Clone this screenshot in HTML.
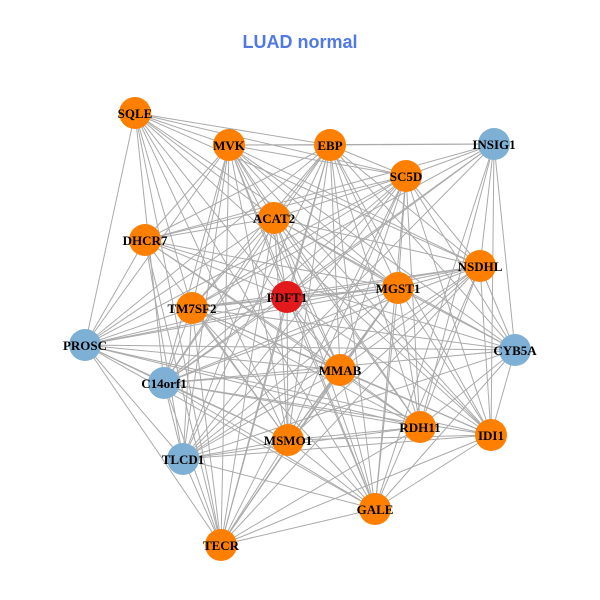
<!DOCTYPE html>
<html><head><meta charset="utf-8"><style>
html,body{margin:0;padding:0;background:#fff;width:600px;height:600px;overflow:hidden}
</style></head><body>
<svg id="g" width="600" height="600" xmlns="http://www.w3.org/2000/svg">
<text x="300" y="48" text-anchor="middle" font-family="Liberation Sans, sans-serif" font-weight="bold" font-size="18" fill="#5079E6">LUAD normal</text>
<g id="e" stroke="#aaaaaa" stroke-width="1"></g>
<g id="n"></g>
</svg>
<script>
var N=[["SQLE",135,113,"o"],["MVK",229,145,"o"],["EBP",330,145,"o"],["INSIG1",494,144,"b"],["SC5D",406,176,"o"],["ACAT2",274,218,"o"],["DHCR7",145,240,"o"],["NSDHL",480,266,"o"],["MGST1",398,288,"o"],["FDFT1",287,297,"r"],["TM7SF2",192,308,"o"],["PROSC",85,345,"b"],["CYB5A",515,350,"b"],["C14orf1",164,383,"b"],["MMAB",340,370,"o"],["RDH11",420,427,"o"],["IDI1",491,435,"o"],["MSMO1",288,440,"o"],["TLCD1",183,459,"b"],["GALE",375,509,"o"],["TECR",221,545,"o"]];
var C={o:"#FF8000",b:"#7EB0D5",r:"#E31A1C"};
var ns="http://www.w3.org/2000/svg",e=document.getElementById("e"),n=document.getElementById("n");
for(var i=0;i<N.length;i++)for(var j=i+1;j<N.length;j++){
 if((i*7+j*3)%9==0)continue;
 var l=document.createElementNS(ns,"line");
 l.setAttribute("x1",N[i][1]);l.setAttribute("y1",N[i][2]);l.setAttribute("x2",N[j][1]);l.setAttribute("y2",N[j][2]);e.appendChild(l);}
N.forEach(function(d){
 var c=document.createElementNS(ns,"circle");c.setAttribute("cx",d[1]);c.setAttribute("cy",d[2]);c.setAttribute("r",16);c.setAttribute("fill",C[d[3]]);n.appendChild(c);
 var t=document.createElementNS(ns,"text");t.setAttribute("x",d[1]);t.setAttribute("y",d[2]+5);t.setAttribute("text-anchor","middle");
 t.setAttribute("font-family","Liberation Serif, serif");t.setAttribute("font-weight","bold");t.setAttribute("font-size","13");t.setAttribute("fill","#000");
 t.textContent=d[0];n.appendChild(t);});
</script>
</body></html>
